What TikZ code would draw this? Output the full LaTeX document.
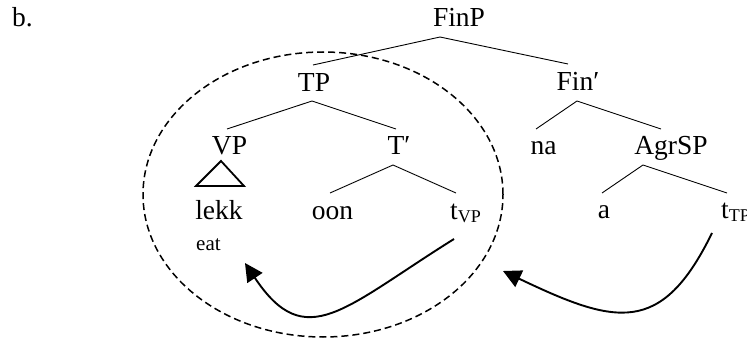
\documentclass[tikz,border=0pt]{standalone}
\usepackage{fontspec}
\setmainfont{Liberation Serif}
\usetikzlibrary{arrows.meta}
\tikzset{
  lbl/.style={inner sep=0pt, anchor=base, font=\fontsize{27.5}{30}\selectfont},
  small/.style={inner sep=0pt, anchor=base west, font=\fontsize{21}{24}\selectfont},
  branch/.style={line width=0.9pt},
  tri/.style={line width=1.8pt, line join=miter},
  move/.style={line width=1.9pt, -{Triangle[length=18pt,width=18pt]}},
  domainring/.style={line width=1.5pt, dash pattern=on 7pt off 4pt}
}
\newcommand{\sub}[1]{\raisebox{-3pt}{\fontsize{18}{20}\selectfont #1}}
\begin{document}
\begin{tikzpicture}[x=1pt,y=-1pt]
\useasboundingbox[fill=white] (0,0) rectangle (747,342);
% labels
\node[lbl, anchor=base west] (ex) at (12,27) {b.};
\node[lbl] (FinP) at (459,27) {FinP};
\node[lbl] (TP) at (314,92) {TP};
\node[lbl] (Finbar) at (578,91) {Fin′};
\node[lbl] (VP) at (229.5,155) {VP};
\node[lbl] (Tbar) at (399,155) {T′};
\node[lbl] (na) at (543.5,155) {na};
\node[lbl] (AgrSP) at (671,155) {AgrSP};
\node[lbl] (lekk) at (219,219) {lekk};
\node[lbl] (oon) at (332.5,219) {oon};
\node[lbl, anchor=base west] (tVP) at (450,219) {t\sub{VP}};
\node[lbl] (a) at (604,218) {a};
\node[lbl, anchor=base west] (tTP) at (721,218) {t\sub{TP}};
\node[small] (eat) at (196,250) {eat};
% branch points
\coordinate (FinPb) at (440,37);
\coordinate (TPt) at (313,65);
\coordinate (Finbart) at (568,64);
\coordinate (TPb) at (312,101);
\coordinate (VPt) at (227,129);
\coordinate (Tbart) at (396,129);
\coordinate (Finbarb) at (577,101);
\coordinate (nat) at (536,129);
\coordinate (AgrSPt) at (661,129);
\coordinate (Tbarb) at (393,165);
\coordinate (oont) at (330,193);
\coordinate (tVPt) at (456,193);
\coordinate (AgrSPb) at (643,165);
\coordinate (at) at (602,193);
\coordinate (tTPt) at (727,193);
\coordinate (triA) at (221,161);
\coordinate (triB) at (196,186);
\coordinate (triC) at (244,186);
% tree
\draw[branch] (TPt) -- (FinPb) -- (Finbart);
\draw[branch] (VPt) -- (TPb) -- (Tbart);
\draw[branch] (nat) -- (Finbarb) -- (AgrSPt);
\draw[branch] (oont) -- (Tbarb) -- (tVPt);
\draw[branch] (at) -- (AgrSPb) -- (tTPt);
\draw[tri] (triA) -- (triB) -- (triC) -- cycle;
% dashed domain
\draw[domainring] (323,194.5) ellipse [x radius=180pt, y radius=142.5pt];
% movement arrows
\coordinate (m1s) at (454,239);
\coordinate (m1e) at (245,263);
\coordinate (m2s) at (712,233);
\coordinate (m2e) at (503,271);
\draw[move] (m1s) .. controls (343.5,308) and (305.5,354) .. (m1e);
\draw[move] (m2s) .. controls (661.4,336.5) and (615.5,324.75) .. (m2e);
\end{tikzpicture}
\end{document}
